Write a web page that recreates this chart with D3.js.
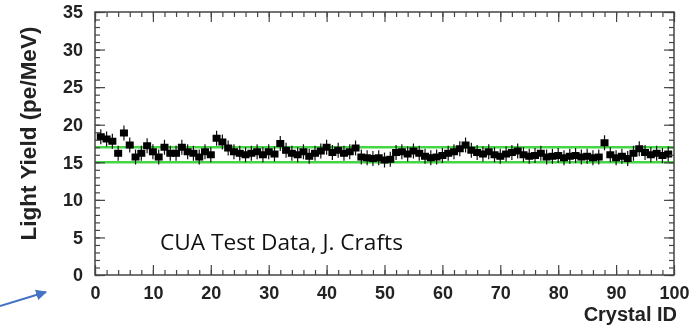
<!DOCTYPE html>
<html>
<head>
<meta charset="utf-8">
<script src="https://cdn.jsdelivr.net/npm/d3@7"></script>
<style>
  body { margin: 0; background: #fff; }
  svg { display: block; }
</style>
</head>
<body>
<div id="chart"></div>
<script>
// light yield per crystal (pe/MeV)
const crystalIds = d3.range(1, 100);
const lightYield = [
  18.4, 18.1, 17.8, 16.2, 18.9, 17.3, 15.7, 16.2, 17.2, 16.4,
  15.7, 17.0, 16.2, 16.2, 17.0, 16.4, 16.2, 15.7, 16.4, 16.0,
  18.2, 17.7, 16.9, 16.4, 16.2, 16.0, 16.2, 16.4, 16.0, 16.4,
  16.1, 17.5, 16.6, 16.2, 16.0, 16.4, 15.8, 16.2, 16.5, 17.0,
  16.3, 16.6, 16.2, 16.4, 16.9, 15.7, 15.6, 15.5, 15.6, 15.3,
  15.4, 16.3, 16.4, 16.1, 16.5, 16.2, 15.8, 15.6, 15.7, 15.9,
  16.2, 16.4, 16.8, 17.3, 16.6, 16.3, 16.1, 16.4, 16.0, 15.8,
  16.1, 16.3, 16.5, 16.0, 15.8, 15.9, 16.2, 15.7, 15.8, 15.9,
  15.6, 15.8, 15.9, 15.7, 15.8, 15.6, 15.7, 17.6, 16.0, 15.6,
  15.8, 15.5, 16.2, 16.8, 16.3, 16.0, 16.2, 15.9, 16.1
];
const yieldError = 1.0;
const bandLines = [15, 17];
const xTicks = d3.range(0, 101, 10);
const yTicks = d3.range(0, 36, 5);

const W = 695, H = 330;
const margin = { top: 12, right: 21, bottom: 55, left: 95 };
const width = W - margin.left - margin.right;
const height = H - margin.top - margin.bottom;

const svg = d3.select('#chart').append('svg')
  .attr('width', W)
  .attr('height', H);

svg.append('defs').append('filter')
  .attr('id', 'soft')
  .append('feGaussianBlur')
  .attr('stdDeviation', 0.6);

const g = svg.append('g')
  .attr('transform', 'translate(' + margin.left + ',' + margin.top + ')')
  .attr('filter', 'url(#soft)');

const x = d3.scaleLinear().domain([0, 100]).range([0, width]);
const y = d3.scaleLinear().domain([0, 35]).range([height, 0]);

// green reference band
g.selectAll('line.band')
  .data(bandLines)
  .enter()
  .append('line')
  .attr('class', 'band')
  .attr('x1', 0)
  .attr('x2', width)
  .attr('y1', d => y(d))
  .attr('y2', d => y(d))
  .attr('stroke', '#45d645')
  .attr('stroke-width', 2.6);

const points = crystalIds.map((id, i) => ({ id: id, v: lightYield[i] }));

// error bars
g.selectAll('line.err')
  .data(points)
  .enter()
  .append('line')
  .attr('class', 'err')
  .attr('x1', d => x(d.id))
  .attr('x2', d => x(d.id))
  .attr('y1', d => y(d.v - yieldError))
  .attr('y2', d => y(d.v + yieldError))
  .attr('stroke', '#111')
  .attr('stroke-width', 1.2);

// square markers
g.selectAll('rect.pt')
  .data(points)
  .enter()
  .append('rect')
  .attr('class', 'pt')
  .attr('x', d => x(d.id) - 4)
  .attr('y', d => y(d.v) - 3.5)
  .attr('width', 8)
  .attr('height', 7)
  .attr('fill', '#000');

// axes, ROOT style ticks pointing inwards
function styleAxis(sel) {
  sel.select('.domain').remove();
  sel.selectAll('.tick line').attr('stroke', '#444').attr('stroke-width', 1.2);
  sel.selectAll('.tick text')
    .attr('font-family', '"Liberation Sans", Arial, sans-serif')
    .attr('font-weight', 'bold')
    .attr('font-size', 18)
    .attr('fill', '#222');
}

g.append('g')
  .attr('transform', 'translate(0,' + height + ')')
  .call(d3.axisBottom(x).tickValues(d3.range(0, 101, 2)).tickSize(-5).tickFormat(''))
  .call(styleAxis);
g.append('g')
  .attr('transform', 'translate(0,' + height + ')')
  .call(d3.axisBottom(x).tickValues(xTicks).tickSize(-10).tickPadding(11).tickFormat(d3.format('d')))
  .call(styleAxis);
g.append('g')
  .call(d3.axisTop(x).tickValues(d3.range(0, 101, 2)).tickSize(-5).tickFormat(''))
  .call(styleAxis);
g.append('g')
  .call(d3.axisTop(x).tickValues(xTicks).tickSize(-10).tickFormat(''))
  .call(styleAxis);

g.append('g')
  .call(d3.axisLeft(y).tickValues(d3.range(0, 36, 1)).tickSize(-5).tickFormat(''))
  .call(styleAxis);
g.append('g')
  .call(d3.axisLeft(y).tickValues(yTicks).tickSize(-10).tickPadding(12).tickFormat(d3.format('d')))
  .call(styleAxis);
g.append('g')
  .attr('transform', 'translate(' + width + ',0)')
  .call(d3.axisRight(y).tickValues(d3.range(0, 36, 1)).tickSize(-5).tickFormat(''))
  .call(styleAxis);
g.append('g')
  .attr('transform', 'translate(' + width + ',0)')
  .call(d3.axisRight(y).tickValues(yTicks).tickSize(-10).tickFormat(''))
  .call(styleAxis);

// frame
g.append('rect')
  .attr('width', width)
  .attr('height', height)
  .attr('fill', 'none')
  .attr('stroke', '#444')
  .attr('stroke-width', 1.5);

// axis titles
g.append('text')
  .attr('transform', 'translate(-59,' + (height / 2 - 10) + ') rotate(-90)')
  .attr('text-anchor', 'middle')
  .attr('font-family', '"Liberation Sans", Arial, sans-serif')
  .attr('font-weight', 'bold')
  .attr('font-size', 22.5)
  .attr('fill', '#222')
  .text('Light Yield (pe/MeV)');

g.append('text')
  .attr('x', width + 3)
  .attr('y', height + 46)
  .attr('text-anchor', 'end')
  .attr('font-family', '"Liberation Sans", Arial, sans-serif')
  .attr('font-weight', 'bold')
  .attr('font-size', 20)
  .attr('fill', '#222')
  .text('Crystal ID');

// annotation and arrow (drawn crisp, outside the blurred group)
const note = svg.append('text')
  .attr('x', 160)
  .attr('y', 250)
  .attr('font-family', '"Open Sans", "Noto Sans", sans-serif')
  .attr('font-size', 20)
  .attr('fill', '#111')
  .text('CUA Test Data, J. Crafts');
const noteW = note.node().getComputedTextLength();
note.attr('font-size', 20 * 243 / noteW);

svg.append('defs').append('marker')
  .attr('id', 'head')
  .attr('viewBox', '0 0 10 10')
  .attr('refX', 9)
  .attr('refY', 5)
  .attr('markerWidth', 5.5)
  .attr('markerHeight', 5.5)
  .attr('orient', 'auto')
  .append('path')
  .attr('d', 'M0,0 L10,5 L0,10 Z')
  .attr('fill', '#4472c4');

svg.append('line')
  .attr('x1', 0)
  .attr('y1', 306)
  .attr('x2', 46)
  .attr('y2', 292)
  .attr('stroke', '#4472c4')
  .attr('stroke-width', 2)
  .attr('marker-end', 'url(#head)');
</script>
</body>
</html>
